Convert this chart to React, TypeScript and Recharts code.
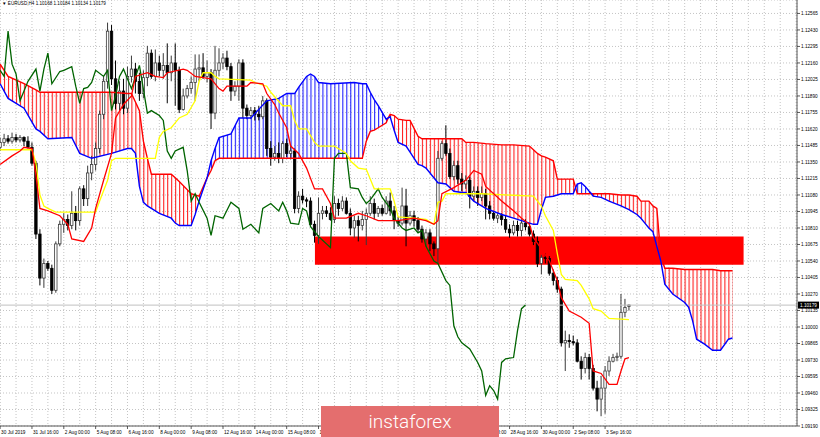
import React from "react";
import {
  ComposedChart,
  XAxis,
  YAxis,
  CartesianGrid,
  Bar,
  Line,
  Area,
  ReferenceLine,
} from "recharts";

// EURUSD H4, bar 0 = 30 Jul 2019 08:00. [open, high, low, close]
const candles: number[][] = [
  [1.1147, 1.1155, 1.1144, 1.1151], [1.1151, 1.1158, 1.1148, 1.1154], [1.1154, 1.1157, 1.115, 1.1152],
  [1.1152, 1.1159, 1.115, 1.1155], [1.1155, 1.1158, 1.1151, 1.1153], [1.1153, 1.1157, 1.1151, 1.1155],
  [1.1155, 1.1156, 1.1148, 1.1152], [1.1152, 1.1156, 1.1146, 1.1147], [1.1147, 1.1151, 1.1132, 1.1134],
  [1.1134, 1.1136, 1.1072, 1.1076], [1.1076, 1.108, 1.1034, 1.104], [1.104, 1.1056, 1.1032, 1.1052],
  [1.1052, 1.1054, 1.1046, 1.1048], [1.1048, 1.1051, 1.1027, 1.103], [1.103, 1.107, 1.1028, 1.1068],
  [1.1068, 1.1087, 1.1066, 1.1084], [1.1084, 1.1093, 1.1077, 1.1088], [1.1088, 1.1092, 1.1079, 1.1083],
  [1.1083, 1.1111, 1.108, 1.1093], [1.1093, 1.1099, 1.1079, 1.1087], [1.1087, 1.1115, 1.1083, 1.1113],
  [1.1113, 1.1116, 1.1099, 1.1105], [1.1105, 1.1132, 1.1099, 1.1126], [1.1126, 1.114, 1.112, 1.1133],
  [1.1133, 1.1151, 1.1128, 1.1146], [1.1146, 1.1177, 1.1142, 1.1174], [1.1174, 1.1205, 1.117, 1.1201],
  [1.1201, 1.1249, 1.1195, 1.1242], [1.1242, 1.1247, 1.1198, 1.1203], [1.1203, 1.1218, 1.1178, 1.1183],
  [1.1183, 1.1201, 1.1177, 1.1193], [1.1193, 1.1203, 1.1174, 1.1179], [1.1179, 1.1213, 1.1175, 1.1205],
  [1.1205, 1.1222, 1.12, 1.1211], [1.1211, 1.1216, 1.1191, 1.1201], [1.1201, 1.1208, 1.1185, 1.1191],
  [1.1191, 1.121, 1.1187, 1.1204], [1.1204, 1.123, 1.1197, 1.1224], [1.1224, 1.1227, 1.1203, 1.1205],
  [1.1205, 1.1227, 1.1201, 1.1216], [1.1216, 1.1222, 1.1205, 1.121], [1.121, 1.1224, 1.1203, 1.1214],
  [1.1214, 1.1232, 1.1183, 1.1208], [1.1208, 1.1222, 1.1201, 1.1216], [1.1216, 1.1232, 1.1181, 1.121],
  [1.121, 1.1213, 1.1175, 1.1178], [1.1178, 1.1195, 1.1177, 1.1189], [1.1189, 1.1198, 1.1187, 1.1195],
  [1.1195, 1.1205, 1.1191, 1.12], [1.12, 1.1223, 1.1185, 1.1211], [1.1211, 1.1223, 1.1201, 1.1212],
  [1.1212, 1.1224, 1.1203, 1.1205], [1.1205, 1.1218, 1.12, 1.1208], [1.1208, 1.1211, 1.1162, 1.1175],
  [1.1175, 1.123, 1.117, 1.121], [1.121, 1.1228, 1.1205, 1.1216], [1.1216, 1.1224, 1.1211, 1.122],
  [1.122, 1.1226, 1.121, 1.1213], [1.1213, 1.1216, 1.1185, 1.1193], [1.1193, 1.1201, 1.1189, 1.1197],
  [1.1197, 1.1219, 1.1185, 1.1216], [1.1216, 1.1219, 1.1171, 1.1179], [1.1179, 1.1182, 1.117, 1.1173],
  [1.1173, 1.118, 1.117, 1.1177], [1.1177, 1.118, 1.1169, 1.1174], [1.1174, 1.1181, 1.1169, 1.1172],
  [1.1172, 1.1189, 1.117, 1.1185], [1.1185, 1.1187, 1.114, 1.1146], [1.1146, 1.1152, 1.1132, 1.1139],
  [1.1139, 1.1148, 1.1136, 1.1142], [1.1142, 1.1151, 1.1134, 1.1138], [1.1138, 1.1152, 1.1134, 1.115],
  [1.115, 1.1154, 1.1139, 1.1142], [1.1142, 1.1148, 1.1137, 1.1144], [1.1144, 1.1146, 1.1093, 1.1097],
  [1.1097, 1.1111, 1.1093, 1.1107], [1.1107, 1.1113, 1.1101, 1.1104], [1.1104, 1.1106, 1.1098, 1.1103],
  [1.1103, 1.1106, 1.1082, 1.1084], [1.1084, 1.1087, 1.1069, 1.1075], [1.1075, 1.1106, 1.1068, 1.1093],
  [1.1093, 1.1099, 1.1088, 1.1095], [1.1095, 1.1099, 1.109, 1.1093], [1.1093, 1.1098, 1.1087, 1.1088],
  [1.1088, 1.1107, 1.1085, 1.1101], [1.1101, 1.1105, 1.1091, 1.1097], [1.1097, 1.1107, 1.1095, 1.1103],
  [1.1103, 1.1106, 1.1092, 1.1093], [1.1093, 1.1097, 1.1075, 1.1081], [1.1081, 1.1091, 1.1073, 1.1087],
  [1.1087, 1.1091, 1.107, 1.1083], [1.1083, 1.1095, 1.1079, 1.1088], [1.1088, 1.1097, 1.1067, 1.1093],
  [1.1093, 1.1107, 1.1091, 1.1101], [1.1101, 1.1105, 1.1088, 1.1093], [1.1093, 1.1099, 1.109, 1.1097],
  [1.1097, 1.11, 1.1091, 1.1093], [1.1093, 1.1107, 1.1092, 1.1103], [1.1103, 1.111, 1.1091, 1.1095],
  [1.1095, 1.1099, 1.108, 1.1087], [1.1087, 1.109, 1.1082, 1.1085], [1.1085, 1.1114, 1.1083, 1.1099],
  [1.1099, 1.1113, 1.1066, 1.1085], [1.1085, 1.1095, 1.1083, 1.1091], [1.1091, 1.1095, 1.1082, 1.1087],
  [1.1087, 1.109, 1.1077, 1.108], [1.108, 1.1083, 1.1069, 1.1072], [1.1072, 1.108, 1.1066, 1.1077],
  [1.1077, 1.108, 1.1062, 1.1068], [1.1068, 1.107, 1.1058, 1.1064], [1.1064, 1.1144, 1.1052, 1.1138],
  [1.1138, 1.1152, 1.1136, 1.115], [1.115, 1.1165, 1.114, 1.1142], [1.1142, 1.1146, 1.1121, 1.1123],
  [1.1123, 1.1136, 1.112, 1.1132], [1.1132, 1.1136, 1.1117, 1.1121], [1.1121, 1.1126, 1.1111, 1.1117],
  [1.1117, 1.1124, 1.1113, 1.112], [1.112, 1.1123, 1.1097, 1.1107], [1.1107, 1.1115, 1.1103, 1.1111],
  [1.1111, 1.1115, 1.1099, 1.1106], [1.1106, 1.1115, 1.1103, 1.1109], [1.1109, 1.1113, 1.1088, 1.1099],
  [1.1099, 1.1103, 1.1088, 1.1093], [1.1093, 1.1095, 1.1087, 1.1089], [1.1089, 1.1093, 1.1085, 1.1091],
  [1.1091, 1.1093, 1.1083, 1.1088], [1.1088, 1.1091, 1.1077, 1.108], [1.108, 1.1084, 1.1073, 1.1077],
  [1.1077, 1.1087, 1.1075, 1.1083], [1.1083, 1.1087, 1.1074, 1.1079], [1.1079, 1.1088, 1.1074, 1.1085],
  [1.1085, 1.1088, 1.1079, 1.1082], [1.1082, 1.1085, 1.1074, 1.1076], [1.1076, 1.1079, 1.1067, 1.107],
  [1.107, 1.1074, 1.1049, 1.1052], [1.1052, 1.1059, 1.1043, 1.1057], [1.1057, 1.106, 1.1052, 1.1056],
  [1.1056, 1.1058, 1.1042, 1.1044], [1.1044, 1.1047, 1.1034, 1.1038], [1.1038, 1.1041, 1.1028, 1.1031],
  [1.1031, 1.1033, 1.0984, 1.0987], [1.0987, 1.0997, 1.0964, 1.0989], [1.0989, 1.0994, 1.0983, 1.0988],
  [1.0988, 1.0993, 1.0985, 1.0987], [1.0987, 1.099, 1.0971, 1.0972], [1.0972, 1.0976, 1.0957, 1.0966],
  [1.0966, 1.0979, 1.0962, 1.0975], [1.0975, 1.0978, 1.0957, 1.0966], [1.0966, 1.0969, 1.0948, 1.095],
  [1.095, 1.0956, 1.0931, 1.0941], [1.0941, 1.096, 1.0927, 1.095], [1.095, 1.0968, 1.0929, 1.0964],
  [1.0964, 1.0976, 1.096, 1.0972], [1.0972, 1.0978, 1.0971, 1.0975], [1.0975, 1.0979, 1.0972, 1.0976],
  [1.0976, 1.1027, 1.0974, 1.1012], [1.1012, 1.1023, 1.1008, 1.1016], [1.10168, 1.10184, 1.10134, 1.10179],
];

// [bar, price] vertices
const tenkan = [
  [0, 1.1133], [3, 1.114], [5, 1.1144], [6, 1.1147], [8, 1.1146], [9, 1.1124], [10, 1.1097], [12, 1.1095],
  [15, 1.1091], [17, 1.1084], [18, 1.1072], [21, 1.107], [23, 1.1081], [24, 1.1097], [26, 1.112], [28, 1.1142],
  [29, 1.1171], [31, 1.1182], [33, 1.1189], [34, 1.1205], [37, 1.1208], [39, 1.1205], [41, 1.1204], [42, 1.1208],
  [46, 1.1211], [47, 1.121], [49, 1.1205], [51, 1.1204], [53, 1.1203], [55, 1.1195], [56, 1.1193], [57, 1.1197],
  [62, 1.1197], [63, 1.12], [66, 1.1199], [67, 1.1191], [69, 1.1182], [70, 1.1175], [72, 1.1163], [73, 1.1148],
  [75, 1.1142], [77, 1.113], [79, 1.1113], [81, 1.1113], [83, 1.1101], [84, 1.1089], [87, 1.1089], [90, 1.1093],
  [92, 1.1091], [95, 1.1087], [100, 1.1087], [104, 1.1089], [107, 1.1087], [109, 1.1084], [110, 1.1087],
  [111, 1.1109], [114, 1.1114], [117, 1.112], [119, 1.1128], [121, 1.1125], [122, 1.1115], [126, 1.1103],
  [129, 1.1095], [131, 1.1089], [133, 1.1084], [134, 1.1073], [136, 1.1064], [138, 1.1054], [140, 1.1038],
  [141, 1.1024], [143, 1.1013], [146, 1.1008], [148, 1.1003], [149, 1.0964], [151, 1.0962], [153, 1.0953],
  [155, 1.0953], [156, 1.0964], [157, 1.0974], [158, 1.0975],
];

const kijun = [
  [0, 1.1145], [8, 1.1145], [9, 1.1134], [10, 1.1108], [11, 1.1099], [12, 1.1097], [14, 1.1094], [24, 1.1094],
  [25, 1.1103], [27, 1.112], [28, 1.1136], [29, 1.1138], [39, 1.1138], [40, 1.1155], [41, 1.116], [43, 1.1163],
  [45, 1.1171], [47, 1.1174], [49, 1.1185], [50, 1.1201], [51, 1.1208], [53, 1.1208], [54, 1.1205], [55, 1.1203],
  [63, 1.1202], [64, 1.12], [67, 1.1197], [68, 1.1192], [71, 1.1181], [73, 1.1181], [74, 1.1169], [75, 1.1162],
  [77, 1.1162], [79, 1.1151], [80, 1.1148], [84, 1.1148], [87, 1.1142], [88, 1.1136], [90, 1.113], [92, 1.1129],
  [94, 1.1113], [98, 1.1113], [99, 1.1103], [100, 1.109], [104, 1.1089], [107, 1.1088], [109, 1.1084],
  [110, 1.1102], [111, 1.1103], [112, 1.1109], [121, 1.1109], [134, 1.1107], [136, 1.1099], [137, 1.1091],
  [139, 1.1079], [140, 1.106], [141, 1.1043], [142, 1.1039], [145, 1.1038], [146, 1.1034], [148, 1.1023],
  [149, 1.1015], [151, 1.1013], [153, 1.1007], [158, 1.1006],
];

const chikou = [
  [0, 1.121], [1, 1.1205], [2, 1.1242], [3, 1.1215], [4, 1.1207], [5, 1.1185], [6, 1.1193], [7, 1.1201],
  [9, 1.1211], [10, 1.1193], [11, 1.1211], [12, 1.1224], [13, 1.1199], [15, 1.1209], [16, 1.121], [18, 1.1213],
  [19, 1.1197], [20, 1.1183], [21, 1.1195], [22, 1.1196], [23, 1.12], [24, 1.121], [26, 1.1205], [27, 1.121],
  [28, 1.1177], [29, 1.1189], [30, 1.1205], [31, 1.1211], [33, 1.1195], [35, 1.1214], [37, 1.1175], [38, 1.1177],
  [40, 1.1173], [41, 1.1169], [42, 1.1144], [43, 1.1138], [44, 1.1144], [46, 1.1147], [47, 1.1128], [48, 1.1103],
  [49, 1.1109], [50, 1.1102], [52, 1.1089], [53, 1.1075], [54, 1.1091], [56, 1.1089], [58, 1.1102], [60, 1.1097],
  [61, 1.108], [63, 1.1084], [65, 1.1077], [66, 1.1097], [68, 1.1101], [70, 1.1095], [71, 1.1102], [72, 1.1095],
  [73, 1.1085], [75, 1.1084], [76, 1.1097], [77, 1.1095], [78, 1.1082], [80, 1.1074], [82, 1.1068], [83, 1.1065],
  [84, 1.1138], [85, 1.1142], [87, 1.1142], [88, 1.1114], [90, 1.1113], [91, 1.1106], [92, 1.1101], [93, 1.1104],
  [95, 1.1113], [96, 1.1106], [98, 1.1097], [99, 1.1089], [101, 1.1081], [102, 1.1079], [104, 1.1081],
  [105, 1.1077], [106, 1.1079], [107, 1.1066], [109, 1.1054], [110, 1.1052], [112, 1.1038], [113, 1.1034],
  [114, 1.1001], [115, 1.0992], [116, 1.0987], [118, 1.0982], [120, 1.0971], [121, 1.0964], [122, 1.0944],
  [123, 1.0952], [124, 1.0948], [125, 1.0941], [126, 1.0971], [127, 1.0974], [129, 1.0975], [130, 1.0997],
  [131, 1.1015], [132, 1.1018],
];

// cloud: bar, senkou span A, senkou span B
const cloudBars = [
  0, 2, 6, 9, 10, 12, 18, 20, 23, 28, 32, 33, 34, 35, 36, 37, 38, 40, 43, 44, 45, 48, 49, 50, 52, 53, 54, 55,
  58, 60, 63, 67, 70, 72, 74, 75, 77, 78, 79, 80, 83, 89, 91, 92, 93, 94, 95, 97, 97.5, 98, 99, 100, 102, 103,
  105, 106, 107, 110, 112, 114, 116, 117, 119, 122, 126, 129, 133, 134, 135, 136, 137, 139, 140, 141, 144,
  144.6, 145, 146, 147, 148, 148.6, 149, 151, 153, 156, 158, 160, 161, 162, 163, 164, 165, 166, 167, 169,
  172, 173, 174, 175, 177, 179, 181, 183, 184,
];
const spanA = [
  1.1215, 1.1205, 1.1199, 1.1194, 1.1192, 1.1192, 1.1192, 1.1192, 1.1192, 1.1192, 1.1191, 1.1191, 1.1184,
  1.1177, 1.1152, 1.1138, 1.1125, 1.1125, 1.1125, 1.1122, 1.1119, 1.1109, 1.1108, 1.1107, 1.1122, 1.1128,
  1.1136, 1.1138, 1.1138, 1.1138, 1.1138, 1.1138, 1.1138, 1.1138, 1.1138, 1.1138, 1.1138, 1.1138, 1.1138,
  1.1138, 1.1138, 1.1138, 1.1138, 1.1152, 1.116, 1.1161, 1.1163, 1.1167, 1.1171, 1.1174, 1.1173, 1.117,
  1.1169, 1.1169, 1.1156, 1.1154, 1.1154, 1.1154, 1.1154, 1.1154, 1.1154, 1.1151, 1.1151, 1.115, 1.1149,
  1.1149, 1.1148, 1.1145, 1.1142, 1.114, 1.1139, 1.1136, 1.1121, 1.1121, 1.1121, 1.1114, 1.1109, 1.1109,
  1.1109, 1.1109, 1.1109, 1.1109, 1.1109, 1.1109, 1.1108, 1.1108, 1.1107, 1.1103, 1.1103, 1.1103, 1.1099,
  1.1097, 1.1058, 1.1048, 1.1048, 1.1047, 1.1047, 1.1047, 1.1047, 1.1047, 1.1047, 1.1046, 1.1046, 1.1046,
];
const spanB = [
  1.1199, 1.1187, 1.1179, 1.1162, 1.116, 1.1154, 1.1155, 1.1142, 1.1138, 1.1142, 1.1146, 1.1146, 1.1142,
  1.1115, 1.1102, 1.1099, 1.1097, 1.1093, 1.1089, 1.1085, 1.1083, 1.1083, 1.1092, 1.1103, 1.1122, 1.1136,
  1.1146, 1.1155, 1.1158, 1.1171, 1.1171, 1.1185, 1.1187, 1.1191, 1.1191, 1.1196, 1.1205, 1.1207, 1.1205,
  1.12, 1.1199, 1.12, 1.1199, 1.1199, 1.1192, 1.1186, 1.1181, 1.117, 1.1171, 1.1172, 1.1161, 1.1151,
  1.1148, 1.1143, 1.1133, 1.1132, 1.113, 1.1118, 1.1117, 1.1111, 1.111, 1.111, 1.1103, 1.1097, 1.1092,
  1.1089, 1.1085, 1.1084, 1.1084, 1.1096, 1.1106, 1.1107, 1.1108, 1.1109, 1.1109, 1.1114, 1.1117, 1.1118,
  1.1115, 1.1111, 1.1109, 1.1107, 1.1106, 1.1103, 1.1099, 1.1096, 1.1092, 1.1089, 1.1085, 1.1081, 1.1078,
  1.1066, 1.1054, 1.1035, 1.1027, 1.102, 1.1016, 1.1005, 1.099, 1.0986, 1.0981, 1.0981, 1.099, 1.0991,
];

// labels that sit under the logo are not visible on the chart
const timeLabels: [number, string][] = [
  [0, "30 Jul 2019"], [8, "31 Jul 16:00"], [16, "2 Aug 00:00"], [24, "5 Aug 08:00"], [32, "6 Aug 16:00"],
  [40, "8 Aug 00:00"], [48, "9 Aug 08:00"], [56, "12 Aug 16:00"], [64, "14 Aug 00:00"], [72, "15 Aug 08:00"],
  [80, "16 Aug 16:00"], [120, "27 Aug 08:00"], [128, "28 Aug 16:00"], [136, "30 Aug 00:00"],
  [144, "2 Sep 08:00"], [152, "3 Sep 16:00"],
];

const priceTicks = [
  1.12565, 1.1243, 1.12295, 1.1216, 1.12025, 1.1189, 1.11755, 1.1162, 1.11485, 1.1135, 1.11215, 1.1108, 1.10945,
  1.1081, 1.10675, 1.1054, 1.10405, 1.1027, 1.10135, 1.1, 1.09865, 1.0973, 1.09595, 1.0946, 1.09325, 1.0919,
];

// support zone drawn on the chart (bars / prices)
const zone = { from: 79.1, to: 186.8, low: 1.1051, high: 1.1074 };

const W = 820;
const H = 437;
const FONT = "Liberation Sans, Arial, sans-serif";
const gridBars = Array.from({ length: 51 }, (_, k) => k * 4);
const labelAt = new Map(timeLabels);

const candleRows = candles.map(([o, h, l, c], i) => ({ i, o, h, l, c, range: [l, h] }));
const pts = (arr: number[][]) => arr.map(([i, v]) => ({ i, v }));
const cloudRows = cloudBars.map((i, k) => {
  const a = spanA[k];
  const b = spanB[k];
  return {
    i,
    a,
    b,
    red: a >= b ? [b, a] : null,
    blue: b >= a ? [a, b] : null,
  };
});
const zoneRows = [
  { i: zone.from, z: [zone.low, zone.high] },
  { i: zone.to, z: [zone.low, zone.high] },
];
const last = candles[candles.length - 1];

function Candle(props: any) {
  const { x, y, width, height, payload } = props;
  if (!payload || y == null) return null;
  const top = Math.min(y, y + height);
  const hh = Math.abs(height);
  const span = payload.h - payload.l;
  const k = span > 0 ? hh / span : 0;
  const py = (v: number) => top + (payload.h - v) * k;
  const cx = x + width / 2;
  const bull = payload.c >= payload.o;
  const yo = py(payload.o);
  const yc = py(payload.c);
  const col = bull ? "#3a3a3a" : "#000";
  return (
    <g>
      <line x1={cx} x2={cx} y1={top} y2={top + hh} stroke={col} strokeWidth={1} />
      <rect
        x={cx - 1.2}
        y={Math.min(yo, yc)}
        width={2.4}
        height={Math.max(Math.abs(yc - yo), 0.8)}
        fill={bull ? "#fff" : "#000"}
        stroke={col}
        strokeWidth={0.8}
      />
    </g>
  );
}

function TimeTick(props: any) {
  const { x, y, payload } = props;
  const label = labelAt.get(payload.value);
  if (!label) return null;
  return (
    <g>
      <line x1={x} x2={x} y1={y} y2={y + 3} stroke="#333" strokeWidth={0.8} />
      <text x={x + 1} y={y + 8} fontSize={4.7} fontFamily={FONT} fill="#000">
        {label}
      </text>
    </g>
  );
}

function PriceTick(props: any) {
  const { x, y, payload } = props;
  return (
    <g>
      <line x1={x} x2={x + 3} y1={y} y2={y} stroke="#333" strokeWidth={0.8} />
      <text x={x + 4} y={y + 1.7} fontSize={4.7} fontFamily={FONT} fill="#000">
        {payload.value.toFixed(5)}
      </text>
    </g>
  );
}

function PriceTag(props: any) {
  const vb = props.viewBox;
  if (!vb) return null;
  const x = vb.x + vb.width + 1;
  return (
    <g>
      <rect x={x} y={vb.y - 3.5} width={21} height={7} fill="#000" />
      <text x={x + 2} y={vb.y + 1.7} fontSize={4.7} fontFamily={FONT} fill="#fff">
        {last[3].toFixed(5)}
      </text>
    </g>
  );
}

const noDots = { dot: false, activeDot: false, isAnimationActive: false } as const;

export default function App() {
  return (
    <div style={{ position: "absolute", left: 0, top: 0, width: W, height: H, background: "#fff", overflow: "hidden" }}>
      <ComposedChart
        width={W}
        height={H}
        data={candleRows}
        margin={{ top: 0, right: 0, bottom: 0, left: 0 }}
      >
        <defs>
          <pattern id="hatchRed" patternUnits="userSpaceOnUse" width={3.98} height={8}>
            <rect x={0} y={0} width={1.1} height={8} fill="#ff1f1f" />
          </pattern>
          <pattern id="hatchBlue" patternUnits="userSpaceOnUse" width={3.98} height={8}>
            <rect x={0} y={0} width={1.1} height={8} fill="#1f1fff" />
          </pattern>
        </defs>
        <CartesianGrid stroke="#c4c4c4" strokeDasharray="1 2" />
        <XAxis
          dataKey="i"
          type="number"
          domain={[-0.03, 200.22]}
          ticks={gridBars}
          interval={0}
          allowDataOverflow
          height={11}
          axisLine={{ stroke: "#555" }}
          tickLine={false}
          tickSize={0}
          tickMargin={0}
          tick={<TimeTick />}
        />
        <YAxis
          orientation="right"
          type="number"
          domain={[1.0919, 1.12675]}
          ticks={priceTicks}
          interval={0}
          allowDataOverflow
          width={23}
          axisLine={{ stroke: "#555" }}
          tickLine={false}
          tickSize={0}
          tickMargin={0}
          tick={<PriceTick />}
        />
        <ReferenceLine y={last[3]} stroke="#c0c0c0" strokeWidth={1} label={<PriceTag />} />
        <Area data={zoneRows} dataKey="z" type="linear" stroke="none" fill="#ff0000" fillOpacity={1} {...noDots} />
        <Area data={cloudRows} dataKey="red" type="linear" stroke="none" fill="url(#hatchRed)" fillOpacity={1} {...noDots} />
        <Area data={cloudRows} dataKey="blue" type="linear" stroke="none" fill="url(#hatchBlue)" fillOpacity={1} {...noDots} />
        <Bar dataKey="range" barSize={3} shape={<Candle />} activeBar={false} isAnimationActive={false} />
        <Line data={cloudRows} dataKey="a" type="linear" stroke="#ff0000" strokeWidth={1.4} {...noDots} />
        <Line data={cloudRows} dataKey="b" type="linear" stroke="#0000ff" strokeWidth={1.4} {...noDots} />
        <Line data={pts(chikou)} dataKey="v" type="linear" stroke="#006400" strokeWidth={1.3} {...noDots} />
        <Line data={pts(kijun)} dataKey="v" type="linear" stroke="#ffff00" strokeWidth={1.3} {...noDots} />
        <Line data={pts(tenkan)} dataKey="v" type="linear" stroke="#ff0000" strokeWidth={1.3} {...noDots} />
      </ComposedChart>
      <div
        style={{
          position: "absolute",
          left: 2,
          top: 2,
          fontFamily: FONT,
          fontSize: 4.6,
          lineHeight: 1,
          color: "#000",
          whiteSpace: "nowrap",
        }}
      >
        {"\u25BC EURUSD,H4 " + last.map((v) => v.toFixed(5)).join(" ")}
      </div>
      <div
        style={{
          position: "absolute",
          left: 321,
          top: 406,
          width: 178,
          height: 31,
          background: "#e46e6e",
          color: "#fff",
          fontFamily: "Roboto, sans-serif",
          fontWeight: 300,
          fontSize: 19,
          display: "flex",
          alignItems: "center",
          justifyContent: "center",
        }}
      >
        instaforex
      </div>
    </div>
  );
}
